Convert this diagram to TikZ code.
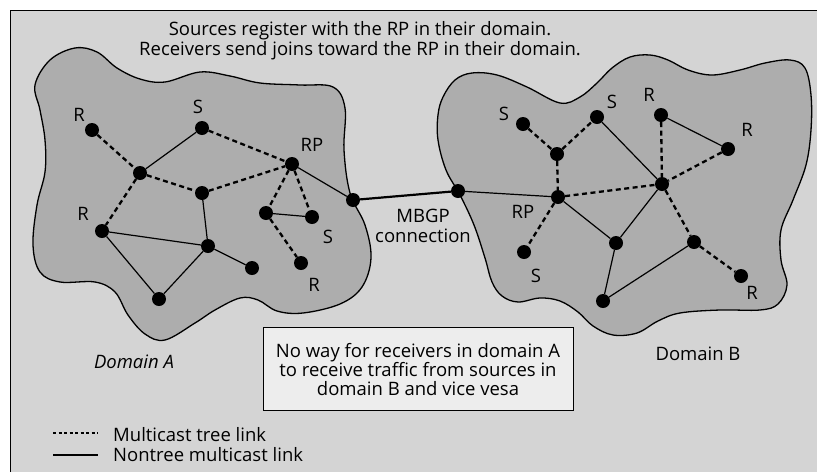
\documentclass[tikz,border=0pt]{standalone}
\usepackage{fontspec}
\setmainfont{Open Sans}
\definecolor{bgc}{gray}{0.83}
\definecolor{blobc}{gray}{0.68}
\definecolor{boxc}{gray}{0.93}
\begin{document}
\begin{tikzpicture}[x=1pt,y=-1pt,
  dot/.style={circle,fill=black,inner sep=0pt,minimum size=14pt},
  lbl/.style={inner sep=0pt,font=\fontsize{18.5}{20}\selectfont},
  tree/.style={line width=2.3pt,dash pattern=on 5pt off 3.5pt},
  nontree/.style={line width=1.2pt},
  blob/.style={fill=blobc,draw=black,line width=1.3pt},
  txt/.style={inner sep=0pt,font=\fontsize{18.5}{20}\selectfont,align=center}]
\useasboundingbox (0,0) rectangle (817,472);
\fill[white] (0,0) rectangle (817,472);
\fill[bgc] (10,10) rectangle (817,472);
\draw[line width=1pt] (10,472) -- (10,10) -- (817,10);

% Domain A outline
\draw[blob] plot[smooth cycle,tension=0.6] coordinates {
 (35,85) (50,60) (75,48) (97,52) (117,68) (140,79) (165,82) (200,72) (230,76)
 (260,83) (300,85) (333,87) (345,108) (344,150) (350,193) (365,225) (371,258)
 (362,287) (340,304) (303,313) (277,311) (258,300) (240,298) (215,310) (195,323)
 (165,340) (145,334) (128,315) (115,292) (95,282) (60,282) (40,272) (33,245)
 (37,205) (45,172) (45,140) (40,110)};
% Domain B outline
\draw[blob] plot[smooth cycle,tension=0.6] coordinates {
 (443,97) (455,80) (472,73) (497,75) (527,87) (560,103) (580,97) (597,83)
 (612,68) (630,57) (650,55) (668,60) (688,70) (712,75) (740,70) (765,63)
 (790,60) (805,68) (811,95) (811,130) (806,165) (793,200) (781,230) (781,260)
 (787,285) (778,304) (760,310) (720,310) (680,313) (658,321) (637,333) (613,335)
 (593,326) (578,312) (560,301) (540,298) (518,302) (502,296) (492,282) (485,258)
 (474,225) (460,195) (446,170) (438,140) (438,115)};

% Domain A nodes
\node[dot] (aR1) at (92,130) {};
\node[dot] (aS) at (202,128) {};
\node[dot] (aRP) at (292,164) {};
\node[dot] (ac1) at (140,173) {};
\node[dot] (ac2) at (202,193) {};
\node[dot] (abd) at (353,200) {};
\node[dot] (as1) at (266,213) {};
\node[dot] (aS2) at (312,217) {};
\node[dot] (aR2) at (102,231) {};
\node[dot] (ah) at (208,246) {};
\node[dot] (abot) at (159,299) {};
\node[dot] (an) at (252,268) {};
\node[dot] (aR3) at (301,263) {};

% Domain B nodes
\node[dot] (bbd) at (458,191) {};
\node[dot] (bS1) at (523,124) {};
\node[dot] (bS2) at (597,117) {};
\node[dot] (bR1) at (661,115) {};
\node[dot] (bR2) at (728,149) {};
\node[dot] (bc1) at (557,154) {};
\node[dot] (bRP) at (558,197) {};
\node[dot] (bhub) at (662,184) {};
\node[dot] (bS3) at (524,252) {};
\node[dot] (bm) at (616,243) {};
\node[dot] (bn) at (694,242) {};
\node[dot] (bR3) at (741,276) {};
\node[dot] (bbot) at (603,301) {};

% Domain A links
\draw[tree] (aR1) -- (ac1);
\draw[nontree] (aS) -- (ac1);
\draw[tree] (aS) -- (aRP);
\draw[tree] (ac1) -- (ac2);
\draw[tree] (ac2) -- (aRP);
\draw[tree] (ac1) -- (aR2);
\draw[nontree] (ac2) -- (ah);
\draw[nontree] (aR2) -- (ah);
\draw[nontree] (aR2) -- (abot);
\draw[nontree] (abot) -- (ah);
\draw[nontree] (ah) -- (an);
\draw[tree] (aRP) -- (as1);
\draw[tree] (aRP) -- (aS2);
\draw[nontree] (as1) -- (aS2);
\draw[tree] (as1) -- (aR3);
\draw[nontree] (aRP) -- (abd);
\draw[line width=2.2pt] (abd) -- (bbd);

% Domain B links
\draw[nontree] (bbd) -- (bRP);
\draw[tree] (bS1) -- (bc1);
\draw[tree] (bc1) -- (bS2);
\draw[tree] (bc1) -- (bRP);
\draw[nontree] (bS2) -- (bhub);
\draw[tree] (bR1) -- (bhub);
\draw[nontree] (bR1) -- (bR2);
\draw[tree] (bR2) -- (bhub);
\draw[tree] (bRP) -- (bhub);
\draw[nontree] (bRP) -- (bm);
\draw[tree] (bRP) -- (bS3);
\draw[nontree] (bhub) -- (bm);
\draw[tree] (bhub) -- (bn);
\draw[tree] (bn) -- (bR3);
\draw[nontree] (bm) -- (bbot);
\draw[nontree] (bbot) -- (bn);

% Labels A
\node[lbl] (laR1) at (79,115) {R};
\node[lbl] (laS) at (198,107) {S};
\node[lbl] (laRP) at (312,145) {RP};
\node[lbl] (laR2) at (83,214) {R};
\node[lbl] (laS2) at (328,237) {S};
\node[lbl] (laR3) at (314,285) {R};
% Labels B
\node[lbl] (lbS1) at (504,114) {S};
\node[lbl] (lbS2) at (612,102) {S};
\node[lbl] (lbR1) at (649,95) {R};
\node[lbl] (lbR2) at (747,130) {R};
\node[lbl] (lbRP) at (523,212) {RP};
\node[lbl] (lbS3) at (536,276) {S};
\node[lbl] (lbR3) at (752,293) {R};

% Title
\node[txt] (title) at (360,41) {Sources register with the RP in their domain.\\Receivers send joins toward the RP in their domain.};
\node[txt] (mbgp) at (423,226) {MBGP\\connection};
\node[txt,font=\fontsize{18.5}{20}\selectfont\itshape] (domA) at (134,362) {Domain A};
\node[txt] (domB) at (698,354) {Domain B};

% Box
\node[draw=black,line width=1pt,fill=boxc,minimum width=310pt,minimum height=83pt,inner sep=0pt] (box) at (418,368.5) {};
\node[txt,font=\fontsize{18.5}{19}\selectfont] (boxt) at (418,370) {No way for receivers in domain A\\to receive traffic from sources in\\domain B and vice vesa};

% Legend
\coordinate (la) at (53,433);
\coordinate (lb) at (98,433);
\coordinate (lc) at (53,455);
\coordinate (ld) at (98,455);
\draw[line width=1.3pt,dash pattern=on 3pt off 2.5pt] (la) -- (lb);
\draw[nontree] (lc) -- (ld);
\node[txt,anchor=west] (leg1) at (113,435) {Multicast tree link};
\node[txt,anchor=west] (leg2) at (113,455) {Nontree multicast link};
\end{tikzpicture}
\end{document}
